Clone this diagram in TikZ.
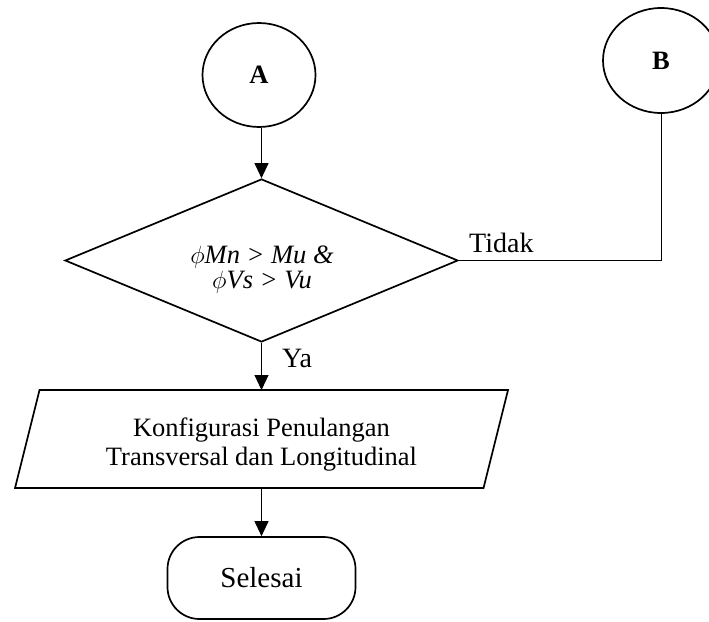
\documentclass[tikz,border=0pt]{standalone}
\usepackage{fontspec}
\setmainfont{Liberation Serif}
\usetikzlibrary{shapes.geometric,arrows.meta,calc}
\begin{document}
\begin{tikzpicture}[x=1pt,y=-1pt,
  shapeline/.style={draw,line width=1.7pt},
  conn/.style={line width=1.1pt,-{Triangle[length=15pt,width=14pt]}},
  plainline/.style={line width=0.9pt},
  txt/.style={font=\fontsize{26.5}{29}\selectfont,inner sep=0pt},
  branch/.style={inner sep=0pt,anchor=base west,font=\fontsize{28}{30}\selectfont},
  connector/.style={shapeline,ellipse,inner sep=0pt,txt,font=\fontsize{26.5}{29}\selectfont\bfseries},
]
\useasboundingbox (0,0) rectangle (709,621);
\clip (0,0) rectangle (709,621);

% off-page connectors
\node[connector,minimum width=113pt,minimum height=104pt] (A) at (259,75) {A};
\node[connector,minimum width=116pt,minimum height=105pt] (B) at (661,60.5) {B};

% decision
\node[shapeline,diamond,inner sep=0pt,minimum width=393pt,minimum height=163pt] (d) at (261.5,260.5) {};
\node[txt,align=center,font=\fontsize{26.5}{25}\selectfont\itshape] (cond) at (262,270)
  {$\phi$Mn > Mu \&\\$\phi$Vs > Vu};

% input/output box (slanted sides)
\node[inner sep=0pt,outer sep=0pt,minimum width=444pt,minimum height=98pt] (cfg) at (261.5,439) {};
\draw[shapeline] (cfg.north west) -- ($(cfg.north east)+(24.5,0)$)
  -- (cfg.south east) -- ($(cfg.south west)+(-24.5,0)$) -- cycle;
\node[txt,align=center] (cfgtext) at ($(cfg.center)+(0,5.4)$)
  {Konfigurasi Penulangan\\Transversal dan Longitudinal};

% terminator
\node[shapeline,rounded corners=32pt,minimum width=188pt,minimum height=82pt,inner sep=0pt,
  font=\fontsize{29}{31}\selectfont] (end) at (261.5,578) {Selesai};

% connectors
\draw[conn] (A.south -| d.north) -- (d.north);
\draw[conn] (d.south) -- (cfg.north);
\draw[conn] (cfg.south) -- (end.north);
\draw[plainline] (B.south) |- (d.east);

% branch labels
\node[branch] (no) at (469,252) {Tidak};
\node[branch] (yes) at (282,367) {Ya};
\end{tikzpicture}
\end{document}
